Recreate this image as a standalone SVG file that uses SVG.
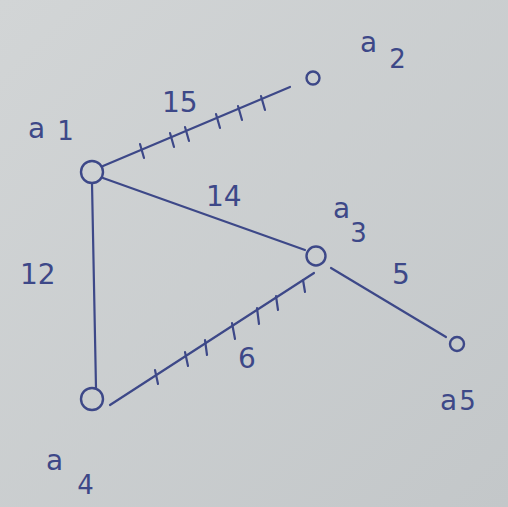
<svg xmlns="http://www.w3.org/2000/svg" width="508" height="507" viewBox="0 0 508 507">
<defs>
<linearGradient id="bg" x1="0" y1="0" x2="1" y2="1">
<stop offset="0" stop-color="#d2d5d6"/>
<stop offset="1" stop-color="#c3c7c9"/>
</linearGradient>
</defs>
<style>
.e{stroke:#3d4888;stroke-width:2.2;fill:none;stroke-linecap:round}
.n{stroke:#3d4888;stroke-width:2.4;fill:none}
.t{fill:#3d4888;font-family:"DejaVu Sans",sans-serif;font-size:28px}
.s{font-size:26px}
</style>
<rect width="508" height="507" fill="url(#bg)"/>
<g id="edges">
<path class="e" d="M103 166 L290 87"/>
<path class="e" d="M140 144 L144 158 M170 133 L174 147 M185 127 L189 141 M216 114 L220 128 M238 106 L242 120 M261 96 L265 110"/>
<path class="e" d="M103 178 L305 250"/>
<path class="e" d="M331 268 L446 337"/>
<path class="e" d="M92 183 L96 388"/>
<path class="e" d="M110 405 L314 273"/>
<path class="e" d="M155 370 L158 384 M185 352 L188 366 M205 340 L207 355 M232 323 L235 339 M257 308 L259 324 M276 296 L278 310 M303 280 L305 292"/>
</g>
<g id="a1"><circle class="n" cx="92" cy="172" r="11"/><text class="t" x="28" y="138">a<tspan class="s" dx="12" dy="2">1</tspan></text></g>
<g id="a2"><circle class="n" cx="313" cy="78" r="6.5"/><text class="t" x="360" y="52">a<tspan class="s" dx="12" dy="16">2</tspan></text></g>
<g id="a3"><circle class="n" cx="316" cy="256" r="9.5"/><text class="t" x="333" y="218">a<tspan class="s" dx="0" dy="24">3</tspan></text></g>
<g id="a4"><circle class="n" cx="92" cy="399" r="11"/><text class="t" x="46" y="470">a<tspan class="s" dx="14" dy="24">4</tspan></text></g>
<g id="a5"><circle class="n" cx="457" cy="344" r="7"/><text class="t" x="440" y="410">a<tspan class="s" dx="2">5</tspan></text></g>
<g id="labels">
<text class="t" x="162" y="112">15</text>
<text class="t" x="206" y="206">14</text>
<text class="t" x="20" y="284">12</text>
<text class="t" x="392" y="284">5</text>
<text class="t" x="238" y="368">6</text>
</g>
</svg>
